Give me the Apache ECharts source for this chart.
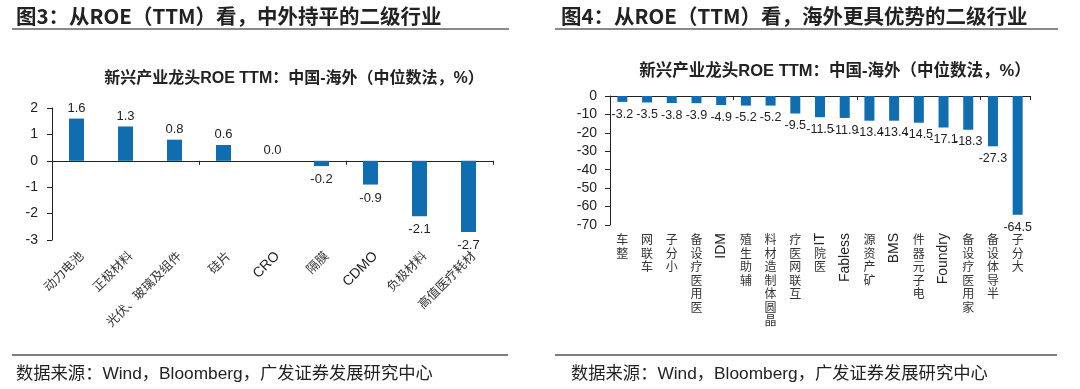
<!DOCTYPE html>
<html>
<head>
<meta charset="utf-8">
<script src="https://cdn.jsdelivr.net/npm/echarts@6/dist/echarts.min.js"></script>
<style>
html,body{margin:0;padding:0;background:#fff;}
#c{width:1080px;height:389px;}
</style>
</head>
<body>
<div id="c"></div>
<script>
// ---- data ----
const leftCats = ['动力电池','正极材料','光伏、玻璃及组件','硅片','CRO','隔膜','CDMO','负极材料','高值医疗耗材'];
const leftVals = [1.6, 1.3, 0.8, 0.6, 0.0, -0.2, -0.9, -2.1, -2.7];
const leftYTicks = { min: -3, max: 2, interval: 1 };

const rightCats = ['整车','车联网','小分子','医用医疗设备','IDM','辅助生殖','晶圆体制造材料','互联网医疗','医院IT','Fabless','矿产资源','BMS','电子元器件','Foundry','家用医疗设备','半导体设备','大分子'];
const rightVals = [-3.2, -3.5, -3.8, -3.9, -4.9, -5.2, -5.2, -9.5, -11.5, -11.9, -13.4, -13.4, -14.5, -17.1, -18.3, -27.3, -64.5];
const rightYTicks = { min: -70, max: 0, interval: 10 };

const leftTitle = '图3：从ROE（TTM）看，中外持平的二级行业';
const rightTitle = '图4：从ROE（TTM）看，海外更具优势的二级行业';
const subTitle = '新兴产业龙头ROE TTM：中国-海外（中位数法，%）';
const sourceText = '数据来源：Wind，Bloomberg，广发证券发展研究中心';

// ---- style ----
const FONT = '"Liberation Sans", "Noto Sans CJK SC", sans-serif';
const CJK = '"Noto Sans CJK SC", sans-serif';
const BLUE = '#0f6db0';
const INK = '#222';

const isAscii = s => /^[A-Za-z0-9 ]+$/.test(s);

function tokens(s) {
  const out = [];
  let buf = '';
  for (const ch of s) {
    if (/[A-Za-z0-9]/.test(ch)) { buf += ch; }
    else { if (buf) { out.push(buf); buf = ''; } out.push(ch); }
  }
  if (buf) out.push(buf);
  return out;
}
// upright stacked CJK, bottom-to-top reading
function cnStack(s) {
  if (isAscii(s)) return '';
  return tokens(s).reverse().map(t => isAscii(t) ? ' ' : t).join('\n');
}
function enPart(s) {
  const t = tokens(s).filter(isAscii);
  return t.length ? t.join('') : '';
}

function barData(vals, posDist, negDist) {
  return vals.map(v => ({
    value: v,
    label: { position: v < 0 ? 'bottom' : 'top', distance: v < 0 ? negDist : posDist }
  }));
}

const chart = echarts.init(document.getElementById('c'));

const option = {
  animation: false,
  backgroundColor: '#fff',
  textStyle: { fontFamily: FONT },
  title: [
    { text: leftTitle, left: 11, top: 1, textStyle: { fontFamily: CJK, fontSize: 20.5, fontWeight: 'bold', color: INK } },
    { text: rightTitle, left: 556, top: 1, textStyle: { fontFamily: CJK, fontSize: 20.5, fontWeight: 'bold', color: INK } },
    { text: subTitle, left: 289, top: 66, textAlign: 'center', textStyle: { fontFamily: FONT, fontSize: 16, fontWeight: 'bold', color: INK } },
    { text: subTitle, left: 830, top: 58, textAlign: 'center', textStyle: { fontFamily: FONT, fontSize: 16.5, fontWeight: 'bold', color: INK } },
    { text: sourceText, left: 11, top: 361, textStyle: { fontFamily: FONT, fontSize: 17.3, fontWeight: 'normal', color: INK } },
    { text: sourceText, left: 566, top: 361, textStyle: { fontFamily: FONT, fontSize: 17.3, fontWeight: 'normal', color: INK } }
  ],
  graphic: [
    { type: 'line', shape: { x1: 12, y1: 29, x2: 509, y2: 29 }, style: { stroke: '#8a8a8a', lineWidth: 2 } },
    { type: 'line', shape: { x1: 555, y1: 29, x2: 1058, y2: 29 }, style: { stroke: '#8a8a8a', lineWidth: 2 } },
    { type: 'line', shape: { x1: 12, y1: 355, x2: 508, y2: 355 }, style: { stroke: '#555', lineWidth: 1.5 } },
    { type: 'line', shape: { x1: 555, y1: 355, x2: 1057, y2: 355 }, style: { stroke: '#555', lineWidth: 1.5 } }
  ],
  grid: [
    { left: 52, top: 108, width: 441, height: 132 },
    { left: 610, top: 96, width: 420, height: 129 }
  ],
  xAxis: [
    // left: zero line with ticks
    { type: 'category', gridIndex: 0, data: leftCats, position: 'bottom',
      axisLine: { onZero: true, lineStyle: { color: INK, width: 1 } },
      axisTick: { show: true, alignWithLabel: false, length: 4, lineStyle: { color: INK } },
      axisLabel: { show: false }, splitLine: { show: false } },
    // left: labels at bottom
    { type: 'category', gridIndex: 0, data: leftCats, position: 'bottom',
      axisLine: { show: false, onZero: false }, axisTick: { show: false },
      axisLabel: { show: true, interval: 0, rotate: 45, margin: 9, color: INK, verticalAlign: 'top',
        formatter: v => isAscii(v) ? '{en|' + v + '}' : '{cn|' + v + '}',
        rich: { cn: { fontFamily: CJK, fontSize: 12.5, color: '#333' }, en: { fontFamily: FONT, fontSize: 14, color: INK } } } },
    // right: zero line with ticks
    { type: 'category', gridIndex: 1, data: rightCats, position: 'bottom',
      axisLine: { onZero: true, lineStyle: { color: INK, width: 1 } },
      axisTick: { show: true, alignWithLabel: false, length: 4, lineStyle: { color: INK } },
      axisLabel: { show: false }, splitLine: { show: false } },
    // right: upright stacked CJK labels
    { type: 'category', gridIndex: 1, data: rightCats, position: 'bottom',
      axisLine: { show: false, onZero: false }, axisTick: { show: false },
      axisLabel: { show: true, interval: 0, rotate: 0, margin: 8, color: '#333',
        fontFamily: CJK, fontSize: 12, lineHeight: 13.5, verticalAlign: 'top',
        formatter: v => cnStack(v) } },
    // right: rotated latin labels
    { type: 'category', gridIndex: 1, data: rightCats, position: 'bottom',
      axisLine: { show: false, onZero: false }, axisTick: { show: false },
      axisLabel: { show: true, interval: 0, rotate: 90, margin: 8, color: INK,
        fontFamily: FONT, fontSize: 14, formatter: v => enPart(v) } }
  ],
  yAxis: [
    { type: 'value', gridIndex: 0, min: leftYTicks.min, max: leftYTicks.max, interval: leftYTicks.interval,
      axisLine: { show: true, lineStyle: { color: INK } },
      axisTick: { show: true, length: 5, lineStyle: { color: INK } },
      axisLabel: { color: INK, fontSize: 14, margin: 14, fontFamily: FONT },
      splitLine: { show: false } },
    { type: 'value', gridIndex: 1, min: rightYTicks.min, max: rightYTicks.max, interval: rightYTicks.interval,
      axisLine: { show: true, lineStyle: { color: INK } },
      axisTick: { show: true, length: 5, lineStyle: { color: INK } },
      axisLabel: { color: INK, fontSize: 14, margin: 13, fontFamily: FONT },
      splitLine: { show: false } }
  ],
  series: [
    { type: 'bar', xAxisIndex: 0, yAxisIndex: 0, data: barData(leftVals, 4, 7), barWidth: 15,
      itemStyle: { color: BLUE },
      label: { show: true, color: INK, fontSize: 13, fontFamily: FONT, formatter: p => p.value.toFixed(1) } },
    { type: 'bar', xAxisIndex: 2, yAxisIndex: 1, data: barData(rightVals, 4, 6), barWidth: 10,
      itemStyle: { color: BLUE },
      label: { show: true, color: INK, fontSize: 12.5, fontFamily: FONT, formatter: p => p.value.toFixed(1) } }
  ]
};
chart.setOption(option);
</script>
</body>
</html>
